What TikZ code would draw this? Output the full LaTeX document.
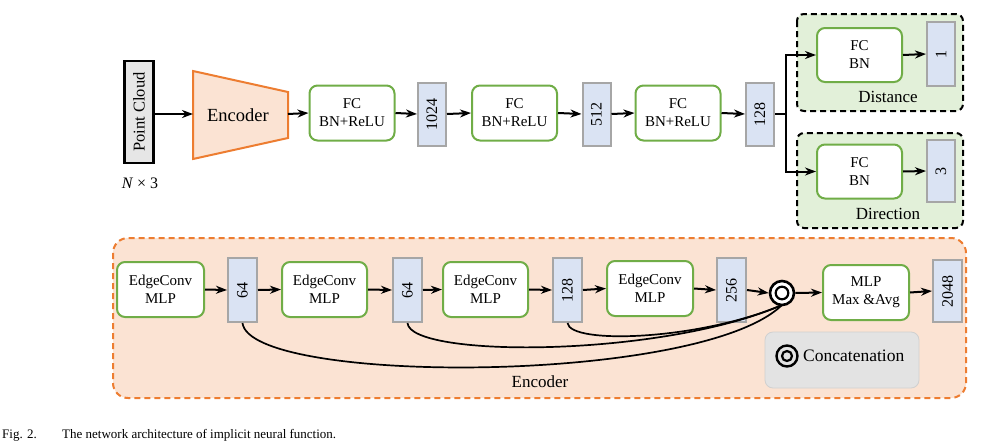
\documentclass[tikz,border=0pt]{standalone}
\usepackage{fontspec}
\setmainfont{Liberation Serif}
\usetikzlibrary{arrows.meta,calc}
\definecolor{cgreen}{HTML}{70AD47}
\definecolor{corange}{HTML}{ED7D31}
\definecolor{cpeach}{HTML}{FBE3D3}
\definecolor{cblue}{HTML}{DAE3F3}
\definecolor{cgrayb}{HTML}{A6A6A6}
\definecolor{clgreen}{HTML}{E2F0D9}
\definecolor{clegend}{HTML}{E3E3E3}
\definecolor{clegendb}{HTML}{D0D0D0}
\definecolor{cpc}{HTML}{E6E6E6}
\tikzset{
  arr/.style={line width=2pt,-{Stealth[length=11pt,width=8pt,inset=3.5pt]}},
  fcbox/.style={draw=cgreen,line width=2pt,rounded corners=8pt,fill=white,
    minimum width=85pt,minimum height=55pt,inner sep=0pt,align=center,
    font=\fontsize{15}{18}\selectfont},
  numbox/.style={draw=cgrayb,line width=2pt,fill=cblue,rotate=90,
    minimum width=63pt,minimum height=28pt,inner sep=0pt,
    font=\fontsize{16}{18}\selectfont},
  group/.style={line width=2pt,dash pattern=on 6pt off 4pt},
  lbl/.style={inner sep=0pt,font=\fontsize{17}{19}\selectfont},
  skip/.style={line width=1.7pt},
}
\begin{document}
\begin{tikzpicture}[x=1pt,y=-1pt]
\useasboundingbox (0,0) rectangle (1002,445);
% groups
\draw[group,draw=black,fill=clgreen,rounded corners=7pt] (797,14) rectangle (963,111);
\draw[group,draw=black,fill=clgreen,rounded corners=7pt] (797,133) rectangle (963,228);
\draw[group,draw=corange,fill=cpeach,rounded corners=15pt] (113,238) rectangle (966,398);
% top row
\node[draw=black,line width=2.2pt,fill=cpc,rotate=90,minimum width=102pt,minimum height=29pt,
  inner sep=0pt,font=\fontsize{16.5}{18}\selectfont] (pc) at (139,112) {Point Cloud};
\node[inner sep=0pt,font=\fontsize{16}{18}\selectfont] (n3lbl) at (140,183) {\textit{N} × 3};
\draw[draw=corange,fill=cpeach,line width=2pt] (193,71) -- (288,92) -- (288,138) -- (193,159) -- cycle;
\node[inner sep=0pt,font=\fontsize{18.5}{20}\selectfont] (enc) at (238,115) {Encoder};
\coordinate (encl) at (193,114);
\coordinate (encr) at (288,114);
\node[fcbox] (fc1) at (352,113) {FC\\BN+ReLU};
\node[numbox] (b1024) at (432,114) {1024};
\node[fcbox] (fc2) at (514.5,113) {FC\\BN+ReLU};
\node[numbox] (b512) at (596.5,114) {512};
\node[fcbox] (fc3) at (678,113) {FC\\BN+ReLU};
\node[numbox] (b128t) at (760,114) {128};
\coordinate (split) at (786,114);
\node[fcbox,minimum height=54pt] (fcd) at (859.5,55) {FC\\BN};
\node[numbox,minimum width=64pt] (b1) at (941,54) {1};
\node[lbl] (ldist) at (888,97) {Distance};
\node[fcbox,minimum height=54pt] (fcr) at (859.5,171.5) {FC\\BN};
\node[numbox,minimum width=62pt] (b3) at (941,171) {3};
\node[lbl] (ldir) at (888,214) {Direction};
\draw[arr] (pc.south|-encl) -- (encl);
\draw[arr] (encr) -- (fc1.west);
\draw[arr] (fc1.east) -- (b1024.north);
\draw[arr] (b1024.south) -- (fc2.west);
\draw[arr] (fc2.east) -- (b512.north);
\draw[arr] (b512.south) -- (fc3.west);
\draw[arr] (fc3.east) -- (b128t.north);
\draw[line width=2pt] (b128t.south) -- (split);
\draw[arr] (split) |- (fcd.west);
\draw[arr] (split) |- (fcr.west);
\draw[arr] (fcd.east) -- (b1.north);
\draw[arr] (fcr.east) -- (b3.north);
% bottom row
\node[fcbox,minimum width=87pt] (ec1) at (160.5,289.5) {EdgeConv\\MLP};
\node[numbox,minimum height=29pt,minimum width=64pt] (b64a) at (242.5,290) {64};
\node[fcbox] (ec2) at (324.5,289.5) {EdgeConv\\MLP};
\node[numbox,minimum height=29pt,minimum width=64pt] (b64b) at (407.5,290) {64};
\node[fcbox] (ec3) at (485.5,289.5) {EdgeConv\\MLP};
\node[numbox,minimum height=29pt,minimum width=64pt] (b128) at (567.5,290) {128};
\node[fcbox,minimum width=86pt] (ec4) at (650,288.5) {EdgeConv\\MLP};
\node[numbox,minimum height=29pt,minimum width=64pt] (b256) at (731.5,290) {256};
\node[fcbox,minimum width=86pt] (mlp) at (866,292.5) {MLP\\Max \&Avg};
\node[numbox,minimum height=29pt,minimum width=62pt] (b2048) at (947.5,291) {2048};
% skip curves
\draw[skip] (b64a.west) .. controls (250,385) and (700,385) .. (782,305);
\draw[skip] (b64b.west) .. controls (410,358) and (660,358) .. (782,305);
\draw[skip] (b128.west) .. controls (570,345) and (700,340) .. (782,305);
\node[draw=black,circle,line width=2.6pt,minimum size=24pt,inner sep=0pt,fill=white] (cat) at (782,293) {};
\draw[line width=2.2pt] (cat.center) circle (6.3pt);
\draw[arr] (ec1.east) -- (b64a.north);
\draw[arr] (b64a.south) -- (ec2.west);
\draw[arr] (ec2.east) -- (b64b.north);
\draw[arr] (b64b.south) -- (ec3.west);
\draw[arr] (ec3.east) -- (b128.north);
\draw[arr] (b128.south) -- (ec4.west);
\draw[arr] (ec4.east) -- (b256.north);
\draw[arr] (b256.south) -- (cat.west);
\draw[arr] (cat.east) -- (mlp.west);
\draw[arr] (mlp.east) -- (b2048.north);
% legend
\node[draw=clegendb,fill=clegend,line width=0.8pt,rounded corners=8pt,minimum width=154pt,
  minimum height=56pt,inner sep=0pt] (legend) at (842,360) {};
\node[draw=black,circle,line width=2.4pt,minimum size=21pt,inner sep=0pt] (lsym) at (787,356) {};
\draw[line width=2.2pt] (lsym.center) circle (5pt);
\node[lbl,anchor=west,font=\fontsize{17.5}{19}\selectfont] (ltext) at (803,356) {Concatenation};
\node[lbl] (lenc) at (540,382) {Encoder};
% caption
\node[inner sep=0pt,anchor=base west,font=\fontsize{13}{15}\selectfont] (cap1) at (2,438) {Fig. 2.};
\node[inner sep=0pt,anchor=base west,font=\fontsize{13}{15}\selectfont] (cap2) at (62,438) {The network architecture of implicit neural function.};
\end{tikzpicture}
\end{document}
